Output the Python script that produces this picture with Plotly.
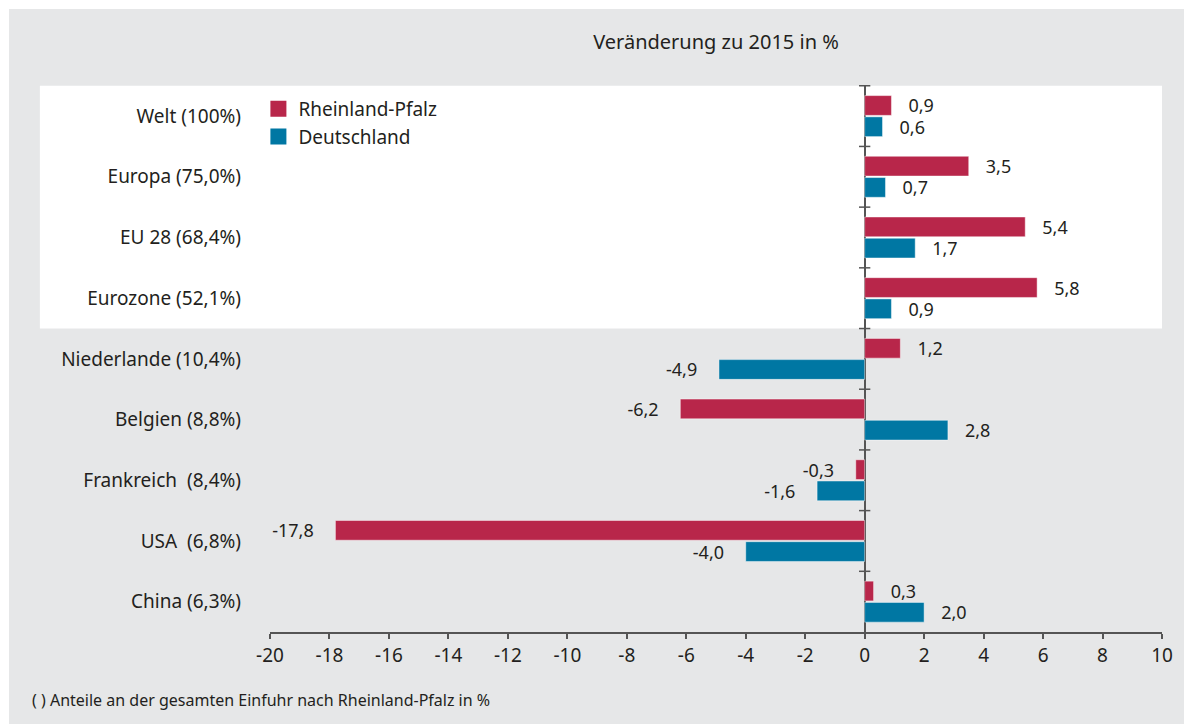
import plotly.graph_objects as go

categories = ["Welt (100%)", "Europa (75,0%)", "EU 28 (68,4%)", "Eurozone (52,1%)",
              "Niederlande (10,4%)", "Belgien (8,8%)", "Frankreich\u00a0\u00a0(8,4%)",
              "USA\u00a0\u00a0(6,8%)", "China (6,3%)"]
rlp_values = [0.9, 3.5, 5.4, 5.8, 1.2, -6.2, -0.3, -17.8, 0.3]
de_values = [0.6, 0.7, 1.7, 0.9, -4.9, 2.8, -1.6, -4.0, 2.0]
series_names = ["Rheinland-Pfalz", "Deutschland"]
tick_values = list(range(-20, 11, 2))
tick_labels = [str(v) for v in tick_values]

RED = "#B8264A"
BLUE = "#0077A3"
GRAY = "#E6E7E8"
TXT = "#231F20"
FONT = "Noto Sans"
FS = 19


def label(v):
    s = f"{v:.1f}".replace(".", ",")
    pad = "\u00a0" * 3
    return pad + s if v >= 0 else s + pad + "\u00a0"


fig = go.Figure()
for name, vals, col in [(series_names[0], rlp_values, RED), (series_names[1], de_values, BLUE)]:
    fig.add_trace(go.Bar(
        y=categories, x=vals, orientation="h", name=name,
        marker=dict(color=col, line=dict(color="rgba(255,255,255,0.45)", width=1)),
        text=[label(v) for v in vals], textposition="outside", cliponaxis=False,
        constraintext="none",
        textfont=dict(family=FONT, size=18, color=TXT),
        showlegend=False, hoverinfo="skip"))
    fig.add_trace(go.Scatter(
        x=[None], y=[None], mode="markers", name=name,
        marker=dict(symbol="square", size=17, color=col), showlegend=True))

shapes = [
    dict(type="rect", xref="paper", yref="paper", x0=-0.2926, x1=1.03, y0=-0.17, y1=1 + 76 / 547,
         fillcolor=GRAY, line=dict(width=0), layer="below"),
    dict(type="rect", xref="paper", yref="y", x0=-0.258, x1=1.0, y0=-0.5, y1=3.5,
         fillcolor="white", line=dict(width=0), layer="below"),
]
for i in range(len(categories)):
    shapes.append(dict(type="line", xref="x", yref="y", x0=-0.19, x1=0.19,
                       y0=i - 0.5, y1=i - 0.5, line=dict(color="#555555", width=1.5)))

fig.update_layout(
    width=1184, height=724,
    paper_bgcolor="white", plot_bgcolor="rgba(0,0,0,0)",
    margin=dict(l=270, r=22, t=85, b=92),
    barmode="group", bargap=0.3, bargroupgap=0.07,
    font=dict(family=FONT, size=FS, color=TXT),
    title=dict(text="Veränderung zu 2015 in %", x=(270 + 892 / 2) / 1184, xanchor="center",
               y=1 - 42 / 724, yanchor="middle", font=dict(family=FONT, size=20, color=TXT)),
    xaxis=dict(range=[-20, 10], tickvals=tick_values, ticktext=tick_labels,
               showgrid=False, zeroline=True, zerolinecolor="#555555", zerolinewidth=1.5,
               showline=True, linecolor="#555555", linewidth=1.5,
               ticks="outside", ticklen=5, tickwidth=1.5, tickcolor="#555555",
               tickfont=dict(family=FONT, size=FS, color=TXT)),
    yaxis=dict(autorange="reversed", showgrid=False, zeroline=False, showline=False,
               ticks="", ticklabelstandoff=28,
               tickfont=dict(family=FONT, size=FS, color=TXT)),
    legend=dict(x=-0.013, y=1 - 5 / 547, xanchor="left", yanchor="top",
                bgcolor="rgba(0,0,0,0)", font=dict(family=FONT, size=FS, color=TXT),
                itemwidth=30, tracegroupgap=0),
    shapes=shapes,
    annotations=[dict(text="( ) Anteile an der gesamten Einfuhr nach Rheinland-Pfalz in %",
                      xref="paper", yref="paper", x=(30 - 270) / 892, y=-(700 - 632) / 547,
                      xanchor="left", yanchor="middle", showarrow=False,
                      font=dict(family=FONT, size=16, color=TXT))],
)

fig.write_html("out.html", config={"displayModeBar": False},
               post_script="document.body.style.margin='0';")
